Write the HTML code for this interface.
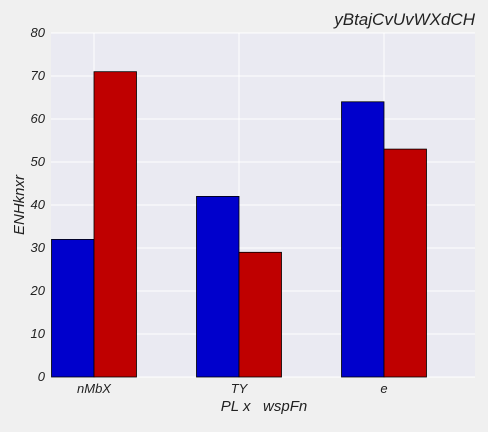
<!DOCTYPE html>
<html><head><meta charset="utf-8"><style>
body{margin:0;background:#f0f0f0;width:488px;height:427px;overflow:hidden;font-family:"Liberation Sans",sans-serif;font-style:italic}
</style></head><body>
<svg width="488" height="427" xmlns="http://www.w3.org/2000/svg">
<g id="root"></g>
</svg>
<script>
const categories=["nMbX","TY","e"];
const seriesA=[32,42,64];
const seriesB=[71,29,53];
const yTicks=[0,10,20,30,40,50,60,70,80];
const NS="http://www.w3.org/2000/svg";
const root=document.getElementById('root');
const L=51,R=475,T=33,B=377;
const y=v=>B-(v/80)*(B-T);
const center=i=>94+i*145;
const bw=42.5;
function mk(tag,attrs,txt){const e=document.createElementNS(NS,tag);for(const k in attrs)e.setAttribute(k,attrs[k]);if(txt!==undefined)e.textContent=txt;root.appendChild(e);return e;}
let bg=mk('rect',{x:L,y:T,width:R-L,height:B-T,fill:'#eaeaf2'});


yTicks.forEach(t=>{
 let g=mk('line',{x1:L,x2:R,y1:y(t),y2:y(t),stroke:'#fff','stroke-width':1});
 
 
 let l=mk('text',{x:45,y:y(t)+4,'text-anchor':'end','font-size':13,fill:'#222'},t);
 
 
});
categories.forEach((c,i)=>{
 let g=mk('line',{x1:center(i),x2:center(i),y1:T,y2:B,stroke:'#fff','stroke-width':1});
 
 
});
categories.forEach((c,i)=>{
 let a=mk('rect',{x:center(i)-bw,y:y(seriesA[i]),width:bw,height:B-y(seriesA[i]),fill:'#0000cc',stroke:'#000','stroke-width':0.8});
 
 
 let b=mk('rect',{x:center(i),y:y(seriesB[i]),width:bw,height:B-y(seriesB[i]),fill:'#bf0000',stroke:'#000','stroke-width':0.8});
 
 
 let l=mk('text',{x:center(i),y:393,'text-anchor':'middle','font-size':13,fill:'#222'},c);
 
 
});
let xt=mk('text',{x:264,y:411,'text-anchor':'middle','font-size':15,fill:'#222',style:'white-space:pre'},'PL x   wspFn');


let yt=mk('text',{x:24,y:205,'text-anchor':'middle','font-size':15,fill:'#222',transform:'rotate(-90 24 205)'},'ENHknxr');


let tt=mk('text',{x:475,y:25,'text-anchor':'end','font-size':17,fill:'#222'},'yBtajCvUvWXdCH');


</script>
</body></html>
